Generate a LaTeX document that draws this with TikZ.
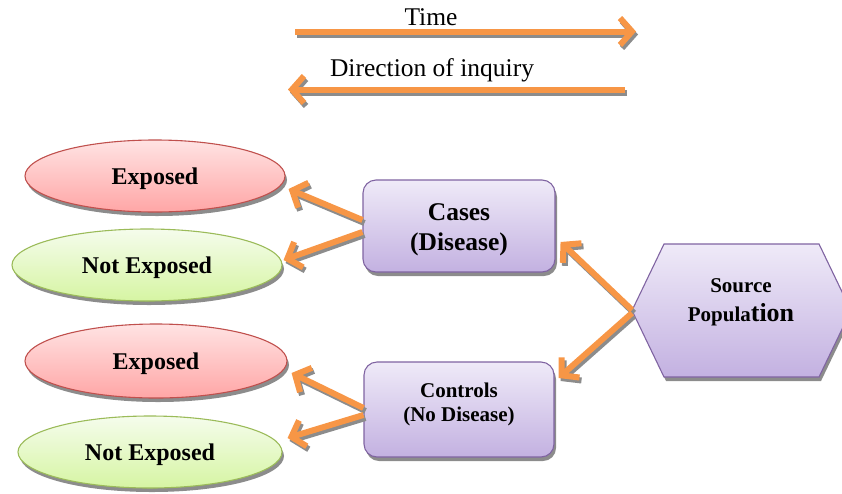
\documentclass[tikz,border=0pt]{standalone}
\usepackage{fontspec}
\setmainfont{Liberation Serif}
\usetikzlibrary{arrows.meta,shapes.geometric,shadows}

\definecolor{arrowor}{HTML}{F79646}
\definecolor{expoline}{HTML}{C0504D}
\definecolor{expotop}{HTML}{FFE3E3}
\definecolor{expobot}{HTML}{FFA6A6}
\definecolor{nexpline}{HTML}{9BBB59}
\definecolor{nexptop}{HTML}{F5FCEC}
\definecolor{nexpbot}{HTML}{D6F5A3}
\definecolor{boxline}{HTML}{8064A2}
\definecolor{boxtop}{HTML}{EFEAF8}
\definecolor{boxbot}{HTML}{C3B1E1}
\definecolor{shadowgray}{HTML}{8C8C8C}

\tikzset{
  dropsh/.style={drop shadow={shadow xshift=2pt,shadow yshift=-4pt,fill=shadowgray,opacity=1}},
  oval/.style={ellipse, inner sep=0pt, text depth=0pt, line width=1.1pt, dropsh,
    font=\bfseries\fontsize{24}{26}\selectfont},
  expo/.style={oval, draw=expoline, top color=expotop, bottom color=expobot},
  nexpo/.style={oval, draw=nexpline, top color=nexptop, bottom color=nexpbot},
  groupbox/.style={rectangle, rounded corners=13pt, draw=boxline, line width=1.1pt,
    top color=boxtop, bottom color=boxbot, dropsh, inner sep=0pt},
  boxtext/.style={align=center, inner sep=0pt},
  lbl/.style={font=\fontsize{25.5}{28}\selectfont, inner sep=0pt, anchor=base},
  tip/.style={-{Straight Barb[length=12pt,width=27pt]}},
  orline/.style={draw=arrowor, line width=6pt, tip},
  orshadow/.style={draw=shadowgray, line width=6pt, tip,
    transform canvas={xshift=2pt,yshift=-3pt}},
}
\newcommand\orarrow[2]{\draw[orshadow] #1 -- #2; \draw[orline] #1 -- #2;}

\begin{document}
\begin{tikzpicture}[x=1pt,y=1pt]
\useasboundingbox (0,0) rectangle (842,-493);

% time and inquiry direction
\node[lbl] (timelbl) at (431,-25) {Time};
\coordinate (ts) at (295,-31.5);
\coordinate (te) at (636,-31.5);
\orarrow{(ts)}{(te)}
\node[lbl] (inqlbl) at (432,-76) {Direction of inquiry};
\coordinate (is) at (625,-89.5);
\coordinate (ie) at (288,-89.5);
\orarrow{(is)}{(ie)}

% exposure ovals
\node[expo, minimum width=260, minimum height=72] (ex1) at (155,-176) {Exposed};
\node[nexpo, minimum width=270, minimum height=72] (nex1) at (147,-265) {Not Exposed};
\node[expo, minimum width=262, minimum height=74] (ex2) at (156,-361) {Exposed};
\node[nexpo, minimum width=264, minimum height=72] (nex2) at (150,-452) {Not Exposed};

% study groups
\node[groupbox, minimum width=192, minimum height=92,
  label={[boxtext, yshift=-4, font=\bfseries\fontsize{25.5}{30}\selectfont]center:{Cases\\(Disease)}}]
  (cases) at (459,-226) {};
\node[groupbox, minimum width=190, minimum height=95,
  label={[boxtext, yshift=5, font=\bfseries\fontsize{21}{23.5}\selectfont]center:{Controls\\(No Disease)}}]
  (controls) at (459,-409.5) {};

% source population hexagon
\path[draw=boxline, line width=1.1pt, top color=boxtop, bottom color=boxbot, dropsh]
  (632,-310.5) -- (664,-244) -- (819,-244) -- (851,-310.5) -- (819,-377) -- (664,-377) -- cycle;
\coordinate (srcw) at (632,-310.5);
\node[font=\bfseries\fontsize{21}{29}\selectfont, align=center] (src) at (741,-302)
  {Source\\Popula{\fontsize{26}{29}\selectfont tion}};

% connectors
\orarrow{([yshift=6]cases.west)}{([shift={(3,-13)}]ex1.east)}
\orarrow{([yshift=-6]cases.west)}{([shift={(1,5)}]nex1.east)}
\orarrow{([yshift=1.5]controls.west)}{([shift={(4,-12)}]ex2.east)}
\orarrow{([yshift=-5.5]controls.west)}{([shift={(5,14)}]nex2.east)}
\orarrow{([yshift=0.5]srcw)}{([shift={(5,-16)}]cases.east)}
\orarrow{([yshift=-2.5]srcw)}{([shift={(4,31.5)}]controls.east)}
\end{tikzpicture}
\end{document}
